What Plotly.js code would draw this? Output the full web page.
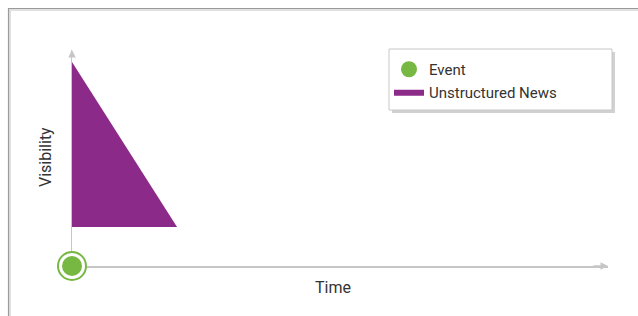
<!DOCTYPE html>
<html>
<head>
<meta charset="utf-8">
<script src="https://cdn.plot.ly/plotly-3.0.1.min.js"></script>
<style>html,body{margin:0;padding:0;background:#fff;}#chart{width:638px;height:316px;}</style>
</head>
<body>
<div id="chart"></div>
<script>
// Data
const eventTime = [0];
const eventVisibility = [0];
const newsTime = [0, 0, 1.96, 0];
const newsVisibility = [9.45, 1.8, 1.8, 9.45];
const seriesNames = ["Event", "Unstructured News"];
const axisTitles = {x: "Time", y: "Visibility"};

const GREEN = "#77B843";
const PURPLE = "#8C2A8A";
const AXIS = "#c6c6c6";

const W = 638, H = 316, L = 72, R = 30, T = 50, B = 50;
const pw = W - L - R, ph = H - T - B;
const px = x => (x - L) / pw;          // pixel -> paper x
const py = y => (H - B - y) / ph;      // pixel -> paper y

const traces = [
  {
    x: newsTime, y: newsVisibility, name: seriesNames[1],
    type: "scatter", mode: "lines", fill: "toself",
    fillcolor: PURPLE, line: {width: 0, color: PURPLE},
    legendrank: 2, hoverinfo: "skip"
  },
  {
    x: eventTime, y: eventVisibility, showlegend: false,
    type: "scatter", mode: "markers", cliponaxis: false,
    marker: {size: 28, color: "#ffffff", line: {color: GREEN, width: 2}},
    hoverinfo: "skip"
  },
  {
    x: eventTime, y: eventVisibility, name: seriesNames[0],
    type: "scatter", mode: "markers", cliponaxis: false,
    marker: {size: 20, color: GREEN, line: {width: 0}},
    legendrank: 1, hoverinfo: "skip"
  }
];

const axisCommon = {range: [0, 10], showgrid: false, zeroline: false, showline: true,
  linecolor: AXIS, linewidth: 1.5, layer: "below traces",
  showticklabels: false, ticks: "", fixedrange: true};

const layout = {
  width: W, height: H,
  margin: {l: L, r: R, t: T, b: B, pad: 0},
  paper_bgcolor: "#ffffff", plot_bgcolor: "rgba(0,0,0,0)",
  font: {family: "Roboto, sans-serif", color: "#333333"},
  xaxis: Object.assign({}, axisCommon, {mirror: false}),
  yaxis: Object.assign({}, axisCommon, {mirror: false}),
  showlegend: true,
  legend: {
    x: px(389), y: py(53), xanchor: "left", yanchor: "top",
    bgcolor: "rgba(0,0,0,0)", borderwidth: 0,
    font: {family: "Roboto, sans-serif", size: 15, color: "#333333"},
    traceorder: "normal", itemwidth: 30
  },
  shapes: [
    // outer frame (shadow + line)
    {type: "rect", xref: "paper", yref: "paper", x0: px(10), x1: px(700), y0: py(10), y1: py(400),
     line: {color: "#d8d8d8", width: 1.5}, fillcolor: "rgba(0,0,0,0)", layer: "below"},
    {type: "rect", xref: "paper", yref: "paper", x0: px(8.5), x1: px(700), y0: py(8.5), y1: py(400),
     line: {color: "#9a9a9a", width: 1.2}, fillcolor: "rgba(0,0,0,0)", layer: "below"},
    // legend box shadow + box
    {type: "rect", xref: "paper", yref: "paper", x0: px(392), x1: px(615), y0: py(52), y1: py(113),
     line: {width: 0}, fillcolor: "rgba(0,0,0,0.18)", layer: "above"},
    {type: "rect", xref: "paper", yref: "paper", x0: px(389), x1: px(612), y0: py(49), y1: py(110),
     line: {color: "#c8c8c8", width: 1}, fillcolor: "#ffffff", layer: "above"}
  ],
  annotations: [
    {x: 10, y: 0, ax: 9.7, ay: 0, xref: "x", yref: "y", axref: "x", ayref: "y",
     showarrow: true, arrowhead: 2, arrowsize: 1, arrowwidth: 1.5, arrowcolor: AXIS, text: ""},
    {x: 0, y: 10, ax: 0, ay: 9.7, xref: "x", yref: "y", axref: "x", ayref: "y",
     showarrow: true, arrowhead: 2, arrowsize: 1, arrowwidth: 1.5, arrowcolor: AXIS, text: ""},
    {x: px(333), y: py(287), xref: "paper", yref: "paper", showarrow: false,
     text: axisTitles.x, font: {size: 16, color: "#333333"}, xanchor: "center", yanchor: "middle"},
    {x: px(45), y: py(157), xref: "paper", yref: "paper", showarrow: false, textangle: -90,
     text: axisTitles.y, font: {size: 16, color: "#333333"}, xanchor: "center", yanchor: "middle"}
  ]
};

Plotly.newPlot("chart", traces, layout, {staticPlot: true, displayModeBar: false});
</script>
</body>
</html>
